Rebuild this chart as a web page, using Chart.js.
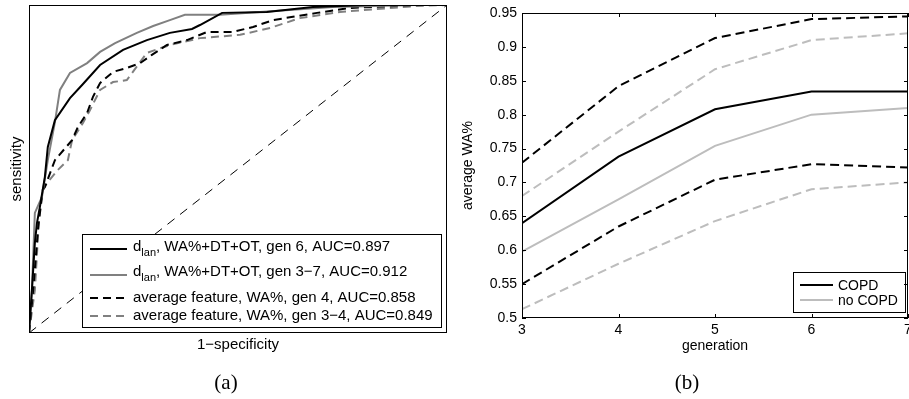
<!DOCTYPE html>
<html lang="en">
<head>
<meta charset="UTF-8">
<title>ROC curves and average WA% per generation</title>
<script src="https://cdn.jsdelivr.net/npm/chart.js"></script>
<style>
  body { margin: 0; background: #fff; width: 909px; height: 399px; position: relative; overflow: hidden; }
  .panel { position: absolute; top: 0; height: 399px; }
  #left { left: 0; width: 460px; }
  #right { left: 460px; width: 449px; }
  .caption { position: absolute; top: 370px; width: 80px; text-align: center; line-height: 22px; font: 21px "Liberation Serif", "DejaVu Serif", serif; }
</style>
</head>
<body>
<div class="panel" id="left"><canvas id="rocChart"></canvas></div>
<div class="panel" id="right"><canvas id="waChart"></canvas></div>
<div class="caption" style="left:186px">(a)</div>
<div class="caption" style="left:647px">(b)</div>

<script>
// ---- (a) ROC curves ----
const gen6Fpr = [0, 0.007, 0.014, 0.019, 0.026, 0.038, 0.045, 0.062, 0.098, 0.127, 0.170, 0.225, 0.282, 0.337, 0.390, 0.409, 0.462, 0.569, 0.679, 0.809, 1];
const gen6Tpr = [0, 0.131, 0.274, 0.335, 0.384, 0.476, 0.567, 0.649, 0.716, 0.756, 0.817, 0.863, 0.893, 0.915, 0.927, 0.939, 0.976, 0.979, 0.994, 1, 1];

const gen37Fpr = [0, 0.007, 0.014, 0.031, 0.045, 0.062, 0.074, 0.098, 0.139, 0.170, 0.206, 0.258, 0.297, 0.337, 0.373, 0.457, 0.727, 0.928, 1];
const gen37Tpr = [0, 0.131, 0.366, 0.415, 0.527, 0.643, 0.741, 0.793, 0.823, 0.857, 0.884, 0.915, 0.936, 0.954, 0.970, 0.970, 0.994, 1, 1];

const avg4Fpr = [0, 0.010, 0.022, 0.033, 0.038, 0.062, 0.103, 0.117, 0.139, 0.153, 0.170, 0.201, 0.234, 0.266, 0.294, 0.330, 0.378, 0.426, 0.488, 0.536, 0.584, 0.689, 0.768, 0.928, 1];
const avg4Tpr = [0, 0.131, 0.323, 0.436, 0.445, 0.527, 0.588, 0.628, 0.671, 0.720, 0.762, 0.796, 0.808, 0.823, 0.848, 0.878, 0.893, 0.918, 0.918, 0.933, 0.954, 0.976, 0.991, 1, 1];

const avg34Fpr = [0, 0.014, 0.022, 0.026, 0.033, 0.043, 0.069, 0.093, 0.103, 0.129, 0.146, 0.170, 0.201, 0.234, 0.282, 0.337, 0.409, 0.505, 0.577, 0.648, 0.744, 0.928, 1];
const avg34Tpr = [0, 0.131, 0.305, 0.375, 0.436, 0.457, 0.497, 0.527, 0.588, 0.640, 0.680, 0.741, 0.765, 0.771, 0.854, 0.878, 0.899, 0.909, 0.930, 0.960, 0.979, 0.997, 1];

const rocLabels = [
  ['d', 'lan', ', WA%+DT+OT, gen 6, AUC=0.897'],
  ['d', 'lan', ', WA%+DT+OT, gen 3\u22127, AUC=0.912'],
  ['average feature, WA%, gen 4, AUC=0.858', '', ''],
  ['average feature, WA%, gen 3\u22124, AUC=0.849', '', '']
];

// ---- (b) average WA% per generation ----
const generations = [3, 4, 5, 6, 7];
const copdMean   = [0.640, 0.738, 0.808, 0.834, 0.834];
const copdUpper  = [0.729, 0.842, 0.913, 0.941, 0.945];
const copdLower  = [0.550, 0.635, 0.704, 0.727, 0.722];
const noCopdMean  = [0.598, 0.675, 0.754, 0.800, 0.810];
const noCopdUpper = [0.680, 0.775, 0.867, 0.910, 0.920];
const noCopdLower = [0.513, 0.580, 0.643, 0.690, 0.700];
const waTicks = [0.5, 0.55, 0.6, 0.65, 0.7, 0.75, 0.8, 0.85, 0.9, 0.95];
const waLegend = ['COPD', 'no COPD'];

const FONT = '"Liberation Sans", Arial, Helvetica, sans-serif';
const BLACK = '#000000';
const GREY_A = '#808080';
const GREY_B = '#bdbdbd';

function pts(xs, ys) {
  return xs.map((x, i) => ({ x: x, y: ys[i] }));
}

function roc(xs, ys, color, dash) {
  return {
    data: pts(xs, ys), showLine: true, borderColor: color, borderWidth: 2,
    borderDash: dash, pointRadius: 0, fill: false, tension: 0
  };
}

// box round the plot area, with optional inward ticks
function frame(tickLen) {
  return {
    id: 'frame',
    afterDraw(chart) {
      const { ctx, chartArea: a, scales } = chart;
      ctx.save();
      ctx.strokeStyle = '#000';
      ctx.lineWidth = 1;
      ctx.strokeRect(Math.round(a.left) + 0.5, Math.round(a.top) + 0.5,
        Math.round(a.right - a.left) - 1, Math.round(a.bottom - a.top) - 1);
      if (tickLen) {
        ctx.beginPath();
        scales.y.ticks.forEach(t => {
          const y = Math.round(scales.y.getPixelForValue(t.value)) + 0.5;
          ctx.moveTo(a.left, y); ctx.lineTo(a.left + tickLen, y);
          ctx.moveTo(a.right, y); ctx.lineTo(a.right - tickLen, y);
        });
        scales.x.ticks.forEach(t => {
          const x = Math.round(scales.x.getPixelForValue(t.value)) + 0.5;
          ctx.moveTo(x, a.bottom); ctx.lineTo(x, a.bottom - tickLen);
          ctx.moveTo(x, a.top); ctx.lineTo(x, a.top + tickLen);
        });
        ctx.stroke();
      }
      ctx.restore();
    }
  };
}

// legend boxes drawn inside the plot, like the original
function boxLegend(box, rows) {
  return {
    id: 'boxLegend',
    afterDatasetsDraw(chart) {
      const ctx = chart.ctx;
      ctx.save();
      ctx.fillStyle = '#fff';
      ctx.fillRect(box.x, box.y, box.w, box.h);
      ctx.strokeStyle = '#000';
      ctx.lineWidth = 1;
      ctx.strokeRect(box.x + 0.5, box.y + 0.5, box.w, box.h);
      rows.forEach(r => {
        ctx.beginPath();
        ctx.strokeStyle = r.color;
        ctx.lineWidth = 2;
        ctx.setLineDash(r.dash);
        ctx.moveTo(box.lineX0, r.lineY);
        ctx.lineTo(box.lineX1, r.lineY);
        ctx.stroke();
        ctx.setLineDash([]);
        ctx.fillStyle = '#000';
        ctx.textBaseline = 'middle';
        ctx.font = box.size + 'px ' + FONT;
        let x = box.textX;
        ctx.fillText(r.text[0], x, r.textY);
        x += ctx.measureText(r.text[0]).width;
        if (r.text[1]) {
          ctx.font = Math.round(box.size * 0.7) + 'px ' + FONT;
          ctx.fillText(r.text[1], x, r.textY + 6);
          x += ctx.measureText(r.text[1]).width;
          ctx.font = box.size + 'px ' + FONT;
          ctx.fillText(r.text[2], x, r.textY);
        }
      });
      ctx.restore();
    }
  };
}

const rocStyles = [
  { color: BLACK, dash: [] },
  { color: GREY_A, dash: [] },
  { color: BLACK, dash: [8, 5] },
  { color: GREY_A, dash: [8, 5] }
];

new Chart(document.getElementById('rocChart'), {
  type: 'scatter',
  data: {
    datasets: [
      roc(gen6Fpr, gen6Tpr, BLACK, []),
      roc(gen37Fpr, gen37Tpr, GREY_A, []),
      roc(avg4Fpr, avg4Tpr, BLACK, [8, 5]),
      roc(avg34Fpr, avg34Tpr, GREY_A, [8, 5]),
      { data: pts([0, 1], [0, 1]), showLine: true, borderColor: BLACK, borderWidth: 1,
        borderDash: [9, 7], pointRadius: 0, fill: false }
    ]
  },
  options: {
    responsive: true,
    maintainAspectRatio: false,
    animation: false,
    events: [],
    layout: { padding: { top: 5, right: 13, bottom: 0, left: 0 } },
    plugins: { legend: { display: false }, tooltip: { enabled: false } },
    scales: {
      x: {
        type: 'linear', min: 0, max: 1,
        grid: { display: false }, border: { display: false },
        ticks: { display: false },
        title: { display: true, text: '1\u2212specificity', color: '#000', font: { family: FONT, size: 15 }, padding: 45 },
        afterFit: s => { s.height = 66; s.paddingLeft = 0; s.paddingRight = 0; }
      },
      y: {
        type: 'linear', min: 0, max: 1,
        grid: { display: false }, border: { display: false },
        ticks: { display: false },
        title: { display: true, text: 'sensitivity', color: '#000', font: { family: FONT, size: 15 }, padding: 8 },
        afterFit: s => { s.width = 29; s.paddingTop = 0; s.paddingBottom = 0; }
      }
    }
  },
  plugins: [
    frame(0),
    boxLegend(
      { x: 82, y: 234, w: 359, h: 93, lineX0: 90, lineX1: 127, textX: 133, size: 15 },
      rocLabels.map((t, i) => ({
        text: t, color: rocStyles[i].color, dash: rocStyles[i].dash,
        textY: [247, 272, 298, 316][i], lineY: [249, 275, 298, 316][i]
      }))
    )
  ]
});

function waLine(ys, color, dash) {
  return {
    data: pts(generations, ys), showLine: true, borderColor: color, borderWidth: 2,
    borderDash: dash, pointRadius: 0, fill: false, tension: 0
  };
}

new Chart(document.getElementById('waChart'), {
  type: 'scatter',
  data: {
    datasets: [
      waLine(copdMean, BLACK, []),
      waLine(copdUpper, BLACK, [9, 5]),
      waLine(copdLower, BLACK, [9, 5]),
      waLine(noCopdMean, GREY_B, []),
      waLine(noCopdUpper, GREY_B, [9, 5]),
      waLine(noCopdLower, GREY_B, [9, 5])
    ]
  },
  options: {
    responsive: true,
    maintainAspectRatio: false,
    animation: false,
    events: [],
    layout: { padding: { top: 13, right: 1, bottom: 0, left: 0 } },
    plugins: { legend: { display: false }, tooltip: { enabled: false } },
    scales: {
      x: {
        type: 'linear', min: 3, max: 7,
        grid: { display: false, drawTicks: false }, border: { display: false },
        afterBuildTicks: s => { s.ticks = generations.map(v => ({ value: v })); },
        ticks: { color: '#000', font: { family: FONT, size: 14 }, padding: 4, maxRotation: 0,
          callback: v => String(v) },
        title: { display: true, text: 'generation', color: '#000', font: { family: FONT, size: 14 }, padding: 44 },
        afterFit: s => { s.height = 81; s.paddingLeft = 0; s.paddingRight = 0; }
      },
      y: {
        type: 'linear', min: 0.5, max: 0.95,
        grid: { display: false, drawTicks: false }, border: { display: false },
        afterBuildTicks: s => { s.ticks = waTicks.map(v => ({ value: v })); },
        ticks: { color: '#000', font: { family: FONT, size: 14 }, padding: 5,
          callback: v => String(parseFloat(v.toFixed(2))) },
        title: { display: true, text: 'average WA%', color: '#000', font: { family: FONT, size: 14 }, padding: 0 },
        afterFit: s => { s.width = 62; s.paddingTop = 0; s.paddingBottom = 0; }
      }
    }
  },
  plugins: [
    frame(4),
    boxLegend(
      { x: 333, y: 272, w: 112, h: 40, lineX0: 340, lineX1: 373, textX: 378, size: 14 },
      waLegend.map((t, i) => ({
        text: [t, '', ''], color: i === 0 ? BLACK : GREY_B, dash: [],
        textY: [286, 301][i], lineY: [285, 300][i]
      }))
    )
  ]
});
</script>
</body>
</html>
